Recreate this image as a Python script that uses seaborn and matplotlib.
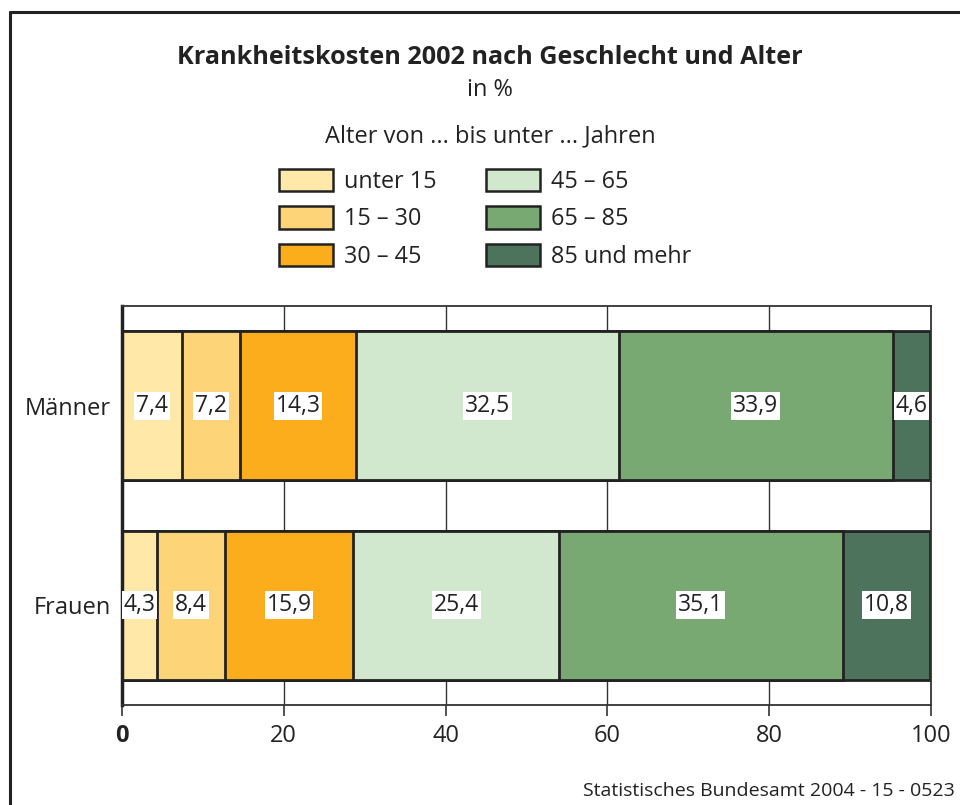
import matplotlib
matplotlib.use("Agg")
import matplotlib.pyplot as plt
import seaborn as sns
import pandas as pd
import numpy as np
from matplotlib.patches import Patch
from matplotlib.lines import Line2D

# ---- data ----
groups = ["Männer", "Frauen"]
age_labels = ["unter 15", "15 – 30", "30 – 45", "45 – 65", "65 – 85", "85 und mehr"]
maenner = [7.4, 7.2, 14.3, 32.5, 33.9, 4.6]
frauen = [4.3, 8.4, 15.9, 25.4, 35.1, 10.8]
colors = ["#FFE8A8", "#FED478", "#FBAD1C", "#D2E8CE", "#79A972", "#4E735D"]
xticks = [0, 20, 40, 60, 80, 100]

sns.set_theme(style="white")
plt.rcParams["font.family"] = ["Open Sans", "DejaVu Sans"]
edge = "#222222"

fig = plt.figure(figsize=(9.6, 8.05), dpi=100)
ax = fig.add_axes([122/960, 100/805, (931-122)/960, (705-306)/805])

vals = np.array([maenner, frauen])
cum = vals.cumsum(axis=1)
lefts = cum - vals

# vertical grid lines behind bars
for t in xticks[1:-1]:
    ax.axvline(t, color="#333333", lw=1.0, zorder=0)

# stacked bars via cumulative layers (largest first)
for i in range(len(age_labels) - 1, -1, -1):
    df = pd.DataFrame({"Geschlecht": groups, "Wert": cum[:, i]})
    sns.barplot(data=df, x="Wert", y="Geschlecht", orient="h", color=colors[i],
                saturation=1, width=0.745, edgecolor=edge, linewidth=2.0,
                ax=ax, zorder=2)

# value labels
for r in range(len(groups)):
    for i in range(len(age_labels)):
        v = vals[r, i]
        x = lefts[r, i] + v / 2
        ax.text(x, r, f"{v:.1f}".replace(".", ","), ha="center", va="center",
                fontsize=16.5, color="#222222", zorder=5,
                bbox=dict(boxstyle="square,pad=0.08", fc="white", ec="none"))

ax.set_xlim(0, 100)
ax.set_ylim(1.5, -0.5)
ax.set_xticks(xticks)
ax.set_xticklabels([str(t) for t in xticks], fontsize=17, color="#222222")
ax.get_xticklabels()[0].set_fontweight("bold")
ax.set_xlabel("")
ax.set_ylabel("")
ax.tick_params(axis="y", labelsize=17, length=0, pad=8, colors="#222222")
ax.tick_params(axis="x", length=8, width=1.2, color="#333333", pad=6,
               direction="out", bottom=True)
for s in ["top", "bottom", "right"]:
    ax.spines[s].set_visible(True)
    ax.spines[s].set_color("#333333")
    ax.spines[s].set_linewidth(1.3)
ax.spines["left"].set_visible(True)
ax.spines["left"].set_color("#222222")
ax.spines["left"].set_linewidth(2.5)
ax.set_facecolor("white")

# frame of the figure
fig.add_artist(Line2D([10/960, 10/960], [0, 1 - 12/805], color="#222222", lw=2.2,
                      transform=fig.transFigure))
fig.add_artist(Line2D([10/960, 1], [1 - 12/805, 1 - 12/805], color="#222222", lw=2.2,
                      transform=fig.transFigure))

# titles
fig.text(490/960, 1 - 57/805, "Krankheitskosten 2002 nach Geschlecht und Alter",
         ha="center", va="center", fontsize=18.2, fontweight="bold", color="#222222")
fig.text(490/960, 1 - 90/805, "in %", ha="center", va="center", fontsize=17, color="#222222")
fig.text(490/960, 1 - 136/805, "Alter von ... bis unter ... Jahren", ha="center",
         va="center", fontsize=17, color="#222222")

handles = [Patch(facecolor=c, edgecolor=edge, linewidth=1.8) for c in colors]
fig.legend(handles, age_labels, ncol=2, loc="upper left",
           bbox_to_anchor=(258/960, 1 - 148/805), frameon=False, fontsize=16.8,
           handlelength=2.3, handleheight=1.1, handletextpad=0.5,
           columnspacing=2.1, labelspacing=0.52, labelcolor="#222222")

fig.text(955/960, 1 - 791/805, "Statistisches Bundesamt 2004 - 15 - 0523",
         ha="right", va="center", fontsize=14, color="#222222")

fig.savefig("out.png", dpi=100, facecolor="white")
